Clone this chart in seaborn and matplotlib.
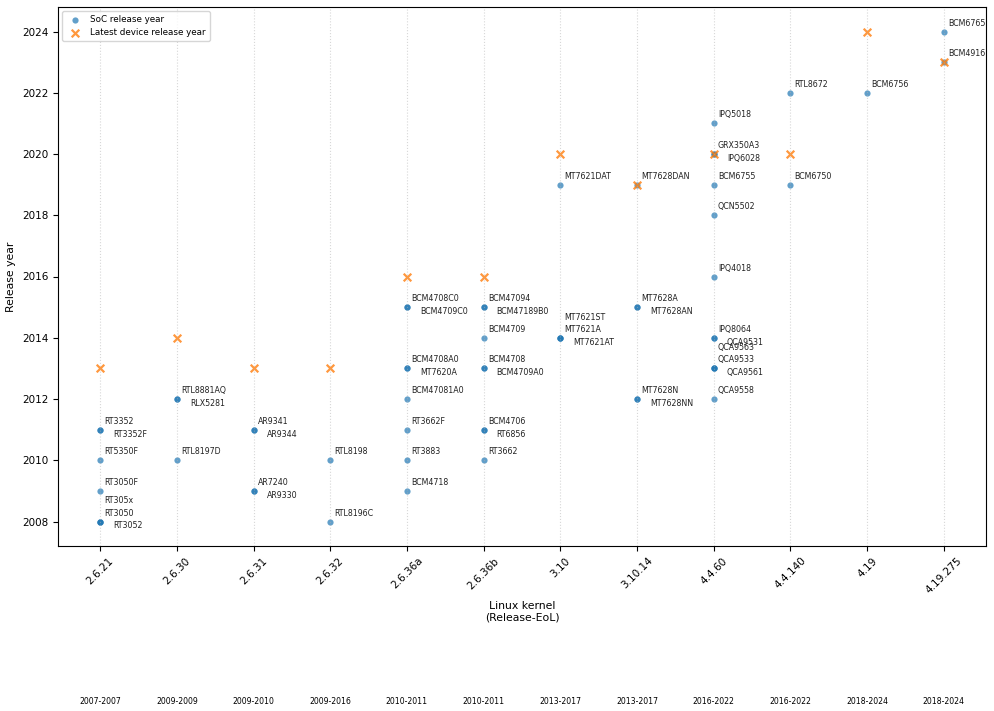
import pandas as pd
import matplotlib
matplotlib.use("Agg")
import matplotlib.pyplot as plt
import matplotlib.transforms as mtransforms
import seaborn as sns

# ===== DATA =====
kernels = ['2.6.21', '2.6.30', '2.6.31', '2.6.32', '2.6.36a', '2.6.36b',
           '3.10', '3.10.14', '4.4.60', '4.4.140', '4.19', '4.19.275']
kernel_span = ['2007-2007', '2009-2009', '2009-2010', '2009-2016', '2010-2011', '2010-2011',
               '2013-2017', '2013-2017', '2016-2022', '2016-2022', '2018-2024', '2018-2024']
latest_device_year = [2013, 2014, 2013, 2013, 2016, 2016, 2020, 2019, 2020, 2020, 2024, 2023]

soc_kernel = (['2.6.21'] * 7 + ['2.6.30'] * 3 + ['2.6.31'] * 4 + ['2.6.32'] * 2
              + ['2.6.36a'] * 8 + ['2.6.36b'] * 8 + ['3.10'] * 4 + ['3.10.14'] * 5
              + ['4.4.60'] * 12 + ['4.4.140'] * 2 + ['4.19'] * 1 + ['4.19.275'] * 2)
soc_year = [2011, 2011, 2010, 2009, 2008, 2008, 2008,
            2012, 2012, 2010,
            2011, 2011, 2009, 2009,
            2010, 2008,
            2015, 2015, 2013, 2013, 2012, 2011, 2010, 2009,
            2015, 2015, 2014, 2013, 2013, 2011, 2011, 2010,
            2019, 2014, 2014, 2014,
            2019, 2015, 2015, 2012, 2012,
            2021, 2020, 2020, 2019, 2018, 2016, 2014, 2014, 2013, 2013, 2013, 2012,
            2022, 2019,
            2022,
            2024, 2023]
soc_name = ['RT3352', 'RT3352F', 'RT5350F', 'RT3050F', 'RT3050', 'RT3052', 'RT305x',
            'RTL8881AQ', 'RLX5281', 'RTL8197D',
            'AR9341', 'AR9344', 'AR7240', 'AR9330',
            'RTL8198', 'RTL8196C',
            'BCM4708C0', 'BCM4709C0', 'BCM4708A0', 'MT7620A', 'BCM47081A0', 'RT3662F', 'RT3883', 'BCM4718',
            'BCM47094', 'BCM47189B0', 'BCM4709', 'BCM4708', 'BCM4709A0', 'BCM4706', 'RT6856', 'RT3662',
            'MT7621DAT', 'MT7621A', 'MT7621AT', 'MT7621ST',
            'MT7628DAN', 'MT7628A', 'MT7628AN', 'MT7628N', 'MT7628NN',
            'IPQ5018', 'GRX350A3', 'IPQ6028', 'BCM6755', 'QCN5502', 'IPQ4018', 'IPQ8064', 'QCA9531',
            'QCA9533', 'QCA9561', 'QCA9563', 'QCA9558',
            'RTL8672', 'BCM6750',
            'BCM6756',
            'BCM6765', 'BCM4916']

soc_df = pd.DataFrame({'kernel': soc_kernel, 'year': soc_year, 'name': soc_name})
dev_df = pd.DataFrame({'kernel': kernels, 'year': latest_device_year})

# ===== PLOT =====
fig = plt.figure(figsize=(9.94, 7.11), dpi=100)
ax = fig.add_axes([58 / 994, 1 - 546 / 711, 928 / 994, 539 / 711])

sns.scatterplot(data=soc_df, x='kernel', y='year', color='#1f77b4', alpha=0.7,
                s=20, linewidth=0, label='SoC release year', ax=ax)
sns.scatterplot(data=dev_df, x='kernel', y='year', color='#ff7f0e', alpha=0.8,
                marker='x', s=30, linewidth=1.6, label='Latest device release year', ax=ax)

# labels next to each dot, stacked when several share a spot
offsets = [(3, 4.3), (9.4, -5), (3, 13)]
seen = {}
for _, row in soc_df.iterrows():
    key = (row['kernel'], row['year'])
    k = seen.get(key, 0)
    seen[key] = k + 1
    ax.annotate(row['name'], (row['kernel'], row['year']), textcoords='offset points',
                xytext=offsets[k % 3], fontsize=5.7, color='#222222')

# release-EoL years under the axis
trans = mtransforms.blended_transform_factory(ax.transData, ax.transAxes)
for kern, span in zip(kernels, kernel_span):
    ax.text(kern, -0.289, span, transform=trans, ha='center', va='center', fontsize=5.6)

# ===== AXES =====
ax.set_xlabel('Linux kernel\n(Release-EoL)', fontsize=7.8)
ax.set_ylabel('Release year', fontsize=7.8)
ax.tick_params(axis='both', labelsize=7.5)
ax.tick_params(axis='x', rotation=45)
ax.grid(axis='x', linestyle=':', linewidth=0.8, alpha=0.5)
ax.legend(loc='upper left', fontsize=6.3)

fig.savefig('out.png', dpi=100)
